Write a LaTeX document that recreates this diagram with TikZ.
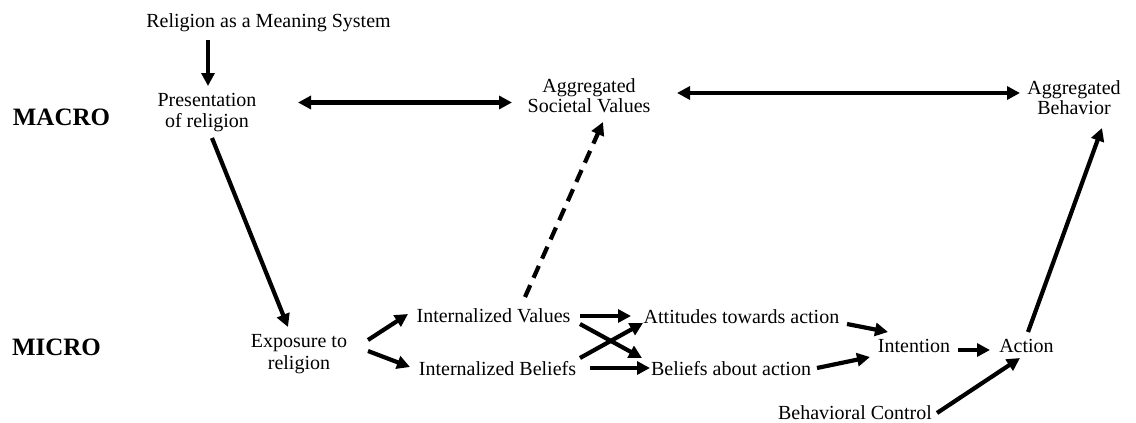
\documentclass[tikz,border=0pt]{standalone}
\usepackage{fontspec}
\setmainfont{Liberation Serif}
\usetikzlibrary{arrows.meta}
\begin{document}
\begin{tikzpicture}[x=1pt,y=-1pt,
  lbl/.style={inner sep=0pt,font=\fontsize{20}{21}\selectfont,align=center},
  big/.style={inner sep=0pt,font=\fontsize{25}{26}\selectfont\bfseries},
  arr/.style={line width=4.2pt,-{Triangle[length=13pt,width=13pt]}},
  darr/.style={line width=4.2pt,{Triangle[length=13pt,width=13pt]}-{Triangle[length=13pt,width=13pt]}},
  dasharr/.style={arr,dash pattern=on 13pt off 8pt}]
\fill[white] (0,0) rectangle (1136,423);
\useasboundingbox (0,0) rectangle (1136,423);
% nodes
\node[lbl] (rel) at (268.5,22.4) {Religion as a Meaning System};
\node[lbl] (pres) at (207,112.9) {Presentation\\of religion};
\node[big] (macro) at (61.5,117) {MACRO};
\node[lbl,font=\fontsize{20}{20}\selectfont] (asv) at (589,96.2) {Aggregated\\Societal Values};
\node[lbl,font=\fontsize{20}{20}\selectfont] (ab) at (1074,97.2) {Aggregated\\Behavior};
\node[lbl,font=\fontsize{20}{22}\selectfont] (exp) at (299,354.4) {Exposure to\\religion};
\node[big] (micro) at (56.5,347) {MICRO};
\node[lbl] (iv) at (493.5,316.2) {Internalized Values};
\node[lbl] (ib) at (497.5,368.2) {Internalized Beliefs};
\node[lbl] (att) at (741.5,316.2) {Attitudes towards action};
\node[lbl] (baa) at (731,368.2) {Beliefs about action};
\node[lbl] (int) at (914,346.2) {Intention};
\node[lbl] (act) at (1026.5,346.2) {Action};
\node[lbl] (bc) at (855,412.2) {Behavioral Control};
% connectors
\draw[arr] ([shift={(-60.5,17.6)}]rel.center) -- ([shift={(1,-26.9)}]pres.center);
\draw[darr] ([shift={(91,-10.4)}]pres.center) -- ([shift={(-77,6.3)}]asv.center);
\draw[darr] ([shift={(88,-3.2)}]asv.center) -- ([shift={(-54,-4.2)}]ab.center);
\draw[arr] ([shift={(5,25.1)}]pres.center) -- ([shift={(-11,-27.4)}]exp.center);
\draw[arr] ([shift={(69,-14.4)}]exp.center) -- ([shift={(-85.5,-2.2)}]iv.center);
\draw[arr] ([shift={(69,-3.4)}]exp.center) -- ([shift={(-87.5,-1.2)}]ib.center);
\draw[arr] ([shift={(86.5,-0.2)}]iv.center) -- ([shift={(-110.5,-0.2)}]att.center);
\draw[arr] ([shift={(86.5,7.8)}]iv.center) -- ([shift={(-89,-10.2)}]baa.center);
\draw[arr] ([shift={(82.5,-10.2)}]ib.center) -- ([shift={(-98.5,6.8)}]att.center);
\draw[arr] ([shift={(92.5,-0.2)}]ib.center) -- ([shift={(-81,-0.2)}]baa.center);
\draw[arr] ([shift={(105.5,7.8)}]att.center) -- ([shift={(-26,-14.2)}]int.center);
\draw[arr] ([shift={(86,-0.2)}]baa.center) -- ([shift={(-44,10.8)}]int.center);
\draw[arr] ([shift={(44,3.8)}]int.center) -- ([shift={(-36.5,3.8)}]act.center);
\draw[arr] ([shift={(82,0.8)}]bc.center) -- ([shift={(-6.5,11.8)}]act.center);
\draw[arr] ([shift={(1.5,-14.2)}]act.center) -- ([shift={(28,30.8)}]ab.center);
\draw[dasharr] ([shift={(31.5,-19.2)}]iv.center) -- ([shift={(14,25.8)}]asv.center);
\end{tikzpicture}
\end{document}
